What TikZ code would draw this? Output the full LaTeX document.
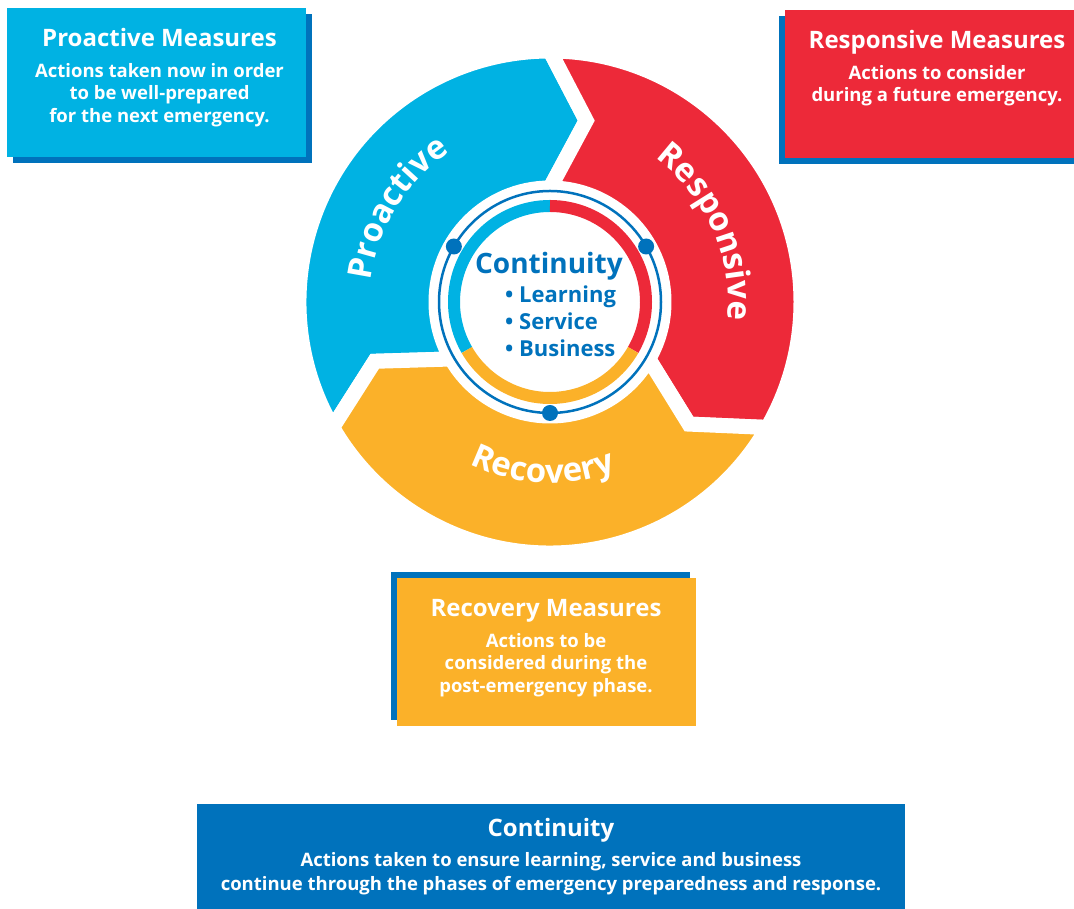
\documentclass[tikz,border=0pt]{standalone}
\usepackage{fontspec}
\setmainfont{Open Sans}
\usetikzlibrary{decorations.text,shadows}

\definecolor{proCyan}{RGB}{0,178,227}
\definecolor{resRed}{RGB}{237,41,57}
\definecolor{recYellow}{RGB}{251,177,41}
\definecolor{conBlue}{RGB}{0,114,188}

\newcommand{\titlefont}{\fontsize{24}{28}\selectfont\bfseries}
\newcommand{\bodyfont}{\fontsize{18.5}{22.5}\selectfont\bfseries}
\newcommand{\arcfont}{\fontsize{33}{36}\selectfont\bfseries}

\tikzset{
  measbox/.style={minimum width=299, minimum height=149, inner sep=0, outer sep=0},
  boxtitle/.style={anchor=base, text=white, font=\titlefont, inner sep=0},
  boxbody/.style={anchor=north, align=center, text=white, font=\bodyfont, inner sep=0},
  arclabel/.style={decorate, decoration={text along path, text align=center,
      text color=white, text={|\arcfont|#1}}}
}

\begin{document}
\begin{tikzpicture}[x=1pt,y=1pt,line join=miter]
\useasboundingbox (0,0) rectangle (1074,909);

% the three phase arrows round the hub
\coordinate (hub) at (550,607);
\begin{scope}[shift={(hub)}]
  \foreach \col/\from/\to in {proCyan/210/90, resRed/90/-30, recYellow/-30/-150}{
    \filldraw[fill=\col, draw=white, line width=15]
      (\from:251) arc[start angle=\from, end angle=\to, radius=251]
      -- ({\to-11.3}:185) -- (\to:114)
      arc[start angle=\to, end angle=\from, radius=114]
      -- ({\from-11.3}:185) -- cycle;
  }
  \path[arclabel=Proactive] (210:180) arc[start angle=210, end angle=87, radius=180];
  \path[arclabel=Responsive] (85:178) arc[start angle=85, end angle=-37, radius=178];
  \path[arclabel=Recovery] (207.5:181) arc[start angle=207.5, end angle=327.5, radius=181];

  % inner ring
  \draw[conBlue, line width=2.5] (0,0) circle[radius=111];
  \draw[proCyan, line width=12] (90:96) arc[start angle=90, end angle=210, radius=96];
  \draw[resRed, line width=12] (90:96) arc[start angle=90, end angle=-30, radius=96];
  \draw[recYellow, line width=12] (-30:96) arc[start angle=-30, end angle=-150, radius=96];
  \foreach \a in {150,30,270}
    \fill[conBlue] (\a:111) circle[radius=8];
\end{scope}

\node[anchor=base, font=\fontsize{28}{32}\selectfont\bfseries, text=conBlue, inner sep=0]
  (hubTitle) at (549,635) {Continuity};
\node[anchor=north west, align=left, font=\fontsize{22}{27}\selectfont\bfseries,
  text=conBlue, inner sep=0] (hubList) at (505,623) {• Learning\\ • Service\\ • Business};

% measure boxes
\node[measbox, fill=proCyan,
  drop shadow={shadow xshift=6pt, shadow yshift=-6pt, fill=conBlue, opacity=1}]
  (proBox) at (156.5,826.5) {};
\node[boxtitle] (proTitle) at ([xshift=3,yshift=-39]proBox.north) {Proactive Measures};
\node[boxbody] (proText) at ([xshift=3,yshift=-55]proBox.north)
  {Actions taken now in order\\ to be well-prepared\\ for the next emergency.};

\node[measbox, minimum width=304, minimum height=148, fill=resRed,
  drop shadow={shadow xshift=-6pt, shadow yshift=-6pt, fill=conBlue, opacity=1}]
  (resBox) at (937,825) {};
\node[boxtitle] (resTitle) at ([yshift=-39]resBox.north) {Responsive Measures};
\node[boxbody] (resText) at ([yshift=-55]resBox.north)
  {Actions to consider\\ during a future emergency.};

\node[measbox, minimum height=148, fill=recYellow,
  drop shadow={shadow xshift=-6pt, shadow yshift=6pt, fill=conBlue, opacity=1}]
  (recBox) at (546,257) {};
\node[boxtitle] (recTitle) at ([yshift=-39]recBox.north) {Recovery Measures};
\node[boxbody] (recText) at ([yshift=-55]recBox.north)
  {Actions to be\\ considered during the\\ post-emergency phase.};

\node[measbox, minimum width=708, minimum height=115, fill=conBlue] (conBox) at (551,47.5) {};
\node[boxtitle] (conTitle) at ([yshift=-33]conBox.north) {Continuity};
\node[boxbody, font=\fontsize{18.5}{24}\selectfont\bfseries] (conText) at ([yshift=-48]conBox.north)
  {Actions taken to ensure learning, service and business\\
   continue through the phases of emergency preparedness and response.};
\end{tikzpicture}
\end{document}
